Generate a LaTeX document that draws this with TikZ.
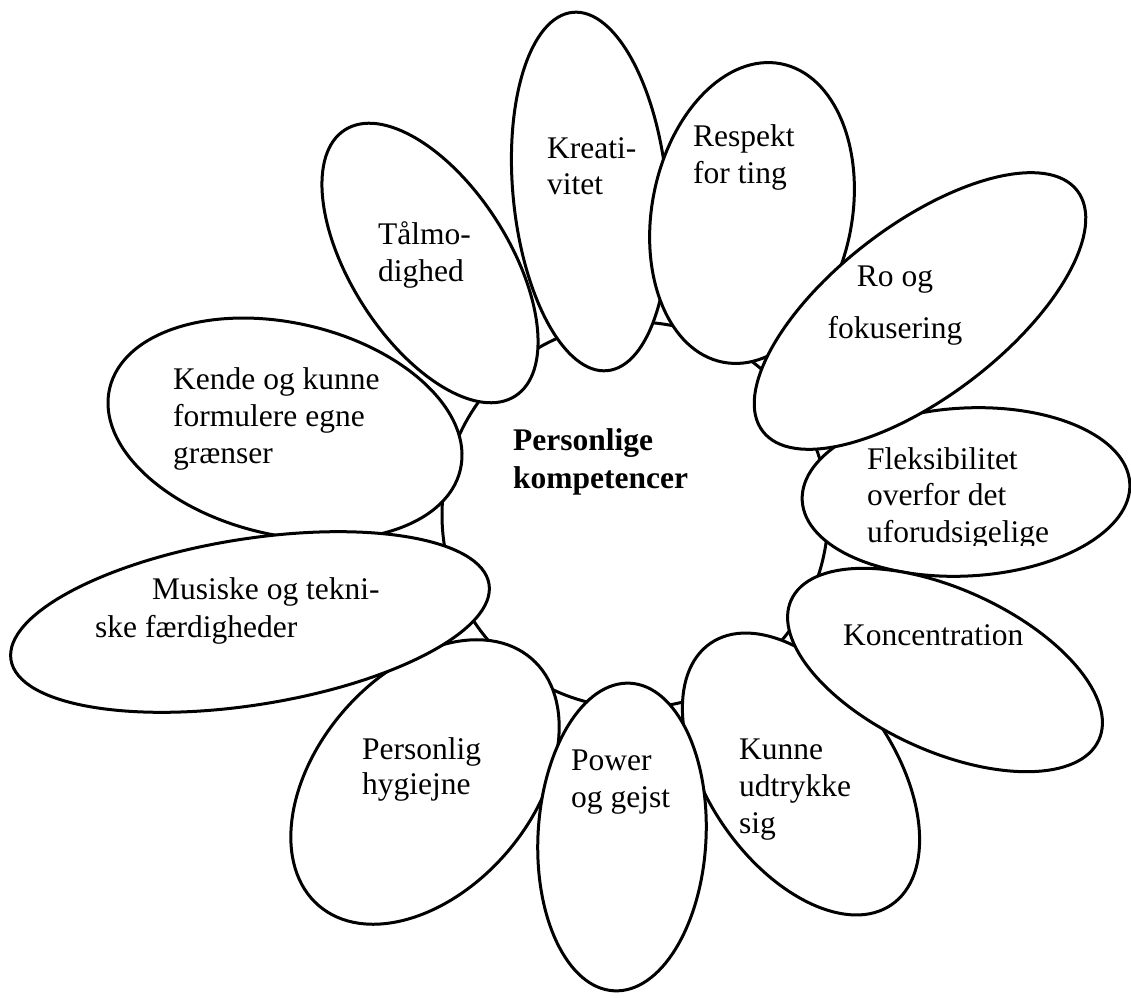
\documentclass[tikz,border=0pt]{standalone}
\usepackage{fontspec}
\setmainfont{Liberation Serif}
\begin{document}
\begin{tikzpicture}[x=1pt,y=1pt,
  petal/.style={draw=black, fill=white, line width=3pt},
  lbl/.style={anchor=base west, inner sep=0pt, font=\fontsize{31.5}{37}\selectfont},
  clbl/.style={anchor=base, inner sep=0pt, font=\fontsize{31.5}{37}\selectfont},
  blbl/.style={anchor=base west, inner sep=0pt, font=\fontsize{31.5}{37}\selectfont\bfseries},
]
\useasboundingbox (0,0) rectangle (1131,997);
\fill[white] (0,0) rectangle (1131,997);
% centre
\draw[line width=3pt] (635,482) circle [radius=193pt];
% petals (bottom to top)
\draw[petal, rotate around={5.5:(590,805.5)}] (590,805.5) ellipse [x radius=77pt, y radius=180pt];
\draw[petal, rotate around={-11:(752,784)}] (752,784) ellipse [x radius=100pt, y radius=152pt];
\draw[petal, rotate around={3:(966,505)}] (966,505) ellipse [x radius=164pt, y radius=84pt];
\draw[petal, rotate around={37.4:(920,686)}] (920,686) ellipse [x radius=198pt, y radius=86pt];
\draw[petal, rotate around={34.8:(801,223)}] (801,223) ellipse [x radius=93pt, y radius=159pt];
\draw[petal, rotate around={-24.5:(945,327)}] (945,327) ellipse [x radius=169pt, y radius=81pt];
\draw[petal, rotate around={-40.7:(425,215)}] (425,215) ellipse [x radius=108pt, y radius=163pt];
\draw[petal, rotate around={-3:(622,160)}] (622,160) ellipse [x radius=84pt, y radius=154pt];
\draw[petal, rotate around={-13:(285,568)}] (285,568) ellipse [x radius=180pt, y radius=106pt];
\draw[petal, rotate around={32.6:(430,734)}] (430,734) ellipse [x radius=79pt, y radius=158pt];
\draw[petal, rotate around={9:(250,375)}] (250,375) ellipse [x radius=242pt, y radius=83pt];
% labels
\node[blbl] (pk1) at (513,547) {Personlige};
\node[blbl] (pk2) at (513,508) {kompetencer};
\node[lbl] (kr1) at (547,838) {Kreati-};
\node[lbl] (kr2) at (547,802) {vitet};
\node[lbl] (re1) at (693,850) {Respekt};
\node[lbl] (re2) at (693,813) {for ting};
\node[lbl] (ta1) at (378,752) {Tålmo-};
\node[lbl] (ta2) at (378,715) {dighed};
\node[clbl] (ro1) at (895,710) {Ro og};
\node[clbl] (ro2) at (895,658) {fokusering};
\node[lbl] (fl1) at (867,528) {Fleksibilitet};
\node[lbl] (fl2) at (867,492) {overfor det};
\begin{scope}
  \clip (800,452) rectangle (1131,500);
  \node[lbl] (fl3) at (867,455) {uforudsigelige};
\end{scope}
\node[lbl] (ko1) at (843,352) {Koncentration};
\node[lbl] (ku1) at (739,238) {Kunne};
\node[lbl] (ku2) at (739,201) {udtrykke};
\node[lbl] (ku3) at (739,164) {sig};
\node[lbl] (po1) at (571,227) {Power};
\node[lbl] (po2) at (571,190) {og gejst};
\node[lbl] (pe1) at (362,238) {Personlig};
\node[lbl] (pe2) at (362,203) {hygiejne};
\node[lbl] (mu1) at (152,398) {Musiske og tekni-};
\node[lbl] (mu2) at (95,360) {ske færdigheder};
\node[lbl] (ke1) at (173,607) {Kende og kunne};
\node[lbl] (ke2) at (173,570) {formulere egne};
\node[lbl] (ke3) at (173,533) {grænser};
\end{tikzpicture}
\end{document}
